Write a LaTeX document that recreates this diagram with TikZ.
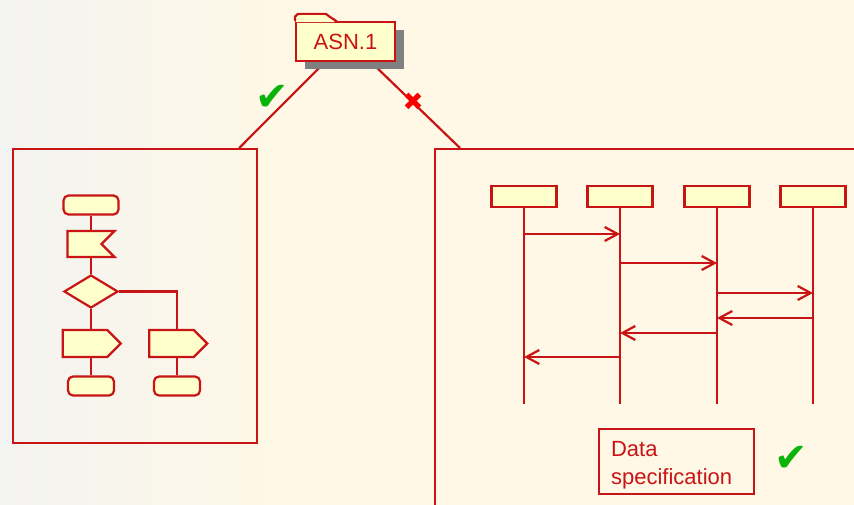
\documentclass[tikz,border=0pt]{standalone}
\usepackage{fontspec}
\setmainfont{Liberation Sans}
\newfontfamily\symfont{DejaVu Sans}
\usetikzlibrary{shapes.geometric,shapes.symbols,shadows,arrows.meta,backgrounds}

\definecolor{asnred}{RGB}{200,20,20}
\definecolor{asnfill}{RGB}{255,255,204}
\definecolor{bgcream}{RGB}{255,248,230}
\definecolor{bgwhite}{RGB}{243,243,241}
\definecolor{shadowgray}{RGB}{128,128,128}
\definecolor{tickgreen}{RGB}{10,180,10}
\definecolor{crossred}{RGB}{250,0,0}

\begin{document}
\begin{tikzpicture}[x=1pt, y=-1pt, line width=2.2pt, color=asnred,
    box/.style={draw=asnred, fill=asnfill, inner sep=0pt},
    frame/.style={draw=asnred, inner sep=0pt},
    link/.style={draw=asnred, line width=2.2pt},
    term/.style={box, rounded corners=5pt, minimum height=19pt},
    recv/.style={box, shape=signal, signal from=east, signal to=nowhere,
                 minimum width=47pt, minimum height=26pt},
    send/.style={box, shape=signal, signal to=east,
                 minimum width=58pt, minimum height=27pt},
    decide/.style={box, shape=diamond, minimum width=54pt, minimum height=33pt},
    head/.style={box, minimum width=65pt, minimum height=21pt},
    msg/.style={-{Straight Barb[length=13pt,width=14pt]}},
    bigtext/.style={font=\fontsize{22}{28}\selectfont},
    tick/.style={text=tickgreen, font=\symfont\fontsize{40}{40}\selectfont}]

    \useasboundingbox (0,0) rectangle (854,505);
    \clip (0,0) rectangle (854,505);

    % Background
    \begin{scope}[on background layer]
        \fill[bgcream] (0,0) rectangle (854,505);
        \shade[left color=bgwhite, right color=bgcream, draw=none] (0,0) rectangle (290,505);
    \end{scope}

    % ASN.1 folder
    \node[box, bigtext, minimum width=99pt, minimum height=39pt,
          drop shadow={shadow xshift=9pt, shadow yshift=-8pt, fill=shadowgray, opacity=1}]
          (asn) at (345.5,41.5) {ASN.1};
    \begin{scope}[shift={(asn.north west)}]
        \fill[asnfill] (1,1.2) -- (1,-4) -- (3,-6) -- (31,-6) -- (35,-3) -- (40,1.2) -- cycle;
        \draw[line join=round] (0,0) -- (0,-4) -- (3,-7) -- (31,-7) -- (35,-4) -- (42,0.5);
    \end{scope}

    % The two views
    \node[frame, anchor=north west, minimum width=244pt, minimum height=294pt] (fcbox) at (12,148) {};
    \node[frame, anchor=north west, minimum width=460pt, minimum height=400pt] (msc) at (434,148) {};

    \begin{scope}[on background layer]
        \draw[link] ([xshift=-20.5pt]asn.south) -- ([xshift=-19pt]fcbox.north east);
        \draw[link] ([xshift=25.5pt]asn.south) -- ([xshift=26pt]msc.north west);
    \end{scope}

    \node[tick] (okleft) at (272,98) {✔};
    \node[text=crossred, font=\symfont\fontsize{25}{25}\selectfont] (noright) at (413,102) {✖};

    % Flowchart
    \node[term, minimum width=55pt] (fstart) at (91,205) {};
    \node[recv] (frecv) at (84.5,244) {};
    \node[decide] (fdec) at (91,291.5) {};
    \node[send] (fsendl) at (85,343.5) {};
    \node[send] (fsendr) at (171.5,343.5) {};
    \node[term, minimum width=46pt] (fendl) at (91,386) {};
    \node[term, minimum width=46pt] (fendr) at (177,386) {};

    \draw (fstart.south) -- (fstart.south |- frecv.north);
    \draw (fdec.north |- frecv.south) -- (fdec.north);
    \draw (fdec.south) -- (fdec.south |- fsendl.north);
    \draw (fendl.north |- fsendl.south) -- (fendl.north);
    \draw (fdec.east) -| (fendr.north |- fsendr.north);
    \draw (fendr.north |- fsendr.south) -- (fendr.north);

    % Sequence chart
    \node[head] (h1) at (524,196.5) {};
    \node[head] (h2) at (620,196.5) {};
    \node[head] (h3) at (717,196.5) {};
    \node[head] (h4) at (813,196.5) {};
    \foreach \i in {1,...,4}
        \draw (h\i.south) -- ++(0,196);

    \foreach \a/\b/\y in {1/2/234, 2/3/263, 3/4/293, 4/3/318, 3/2/333, 2/1/357}
        \draw[msg] (h\a |- 0,\y) -- (h\b |- 0,\y);

    % Data specification
    \node[frame, bigtext, anchor=north west, minimum height=65pt, inner xsep=12pt,
          text width=131pt, text height=22pt, align=left] (dataspec) at (598,428) {Data\\specification};
    \node[tick] (okdata) at (791,459) {✔};
\end{tikzpicture}
\end{document}
